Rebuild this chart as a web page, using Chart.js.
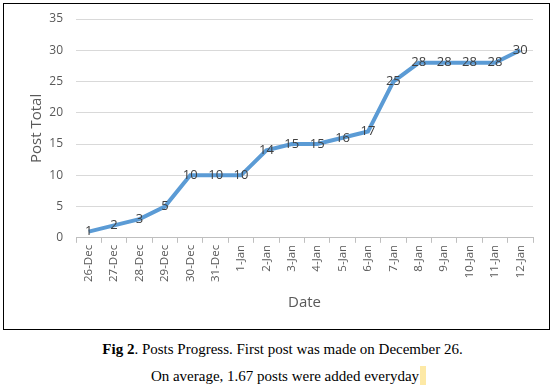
<!DOCTYPE html>
<html><head><meta charset="utf-8">
<script src="https://cdn.jsdelivr.net/npm/chart.js@4"></script>
<style>
html,body{margin:0;padding:0;background:#fff;width:553px;height:387px;overflow:hidden}
#box{position:absolute;left:3px;top:3px;width:545px;height:325px;border:1px solid #000}
#wrap{position:absolute;left:0;top:0;width:545px;height:325px}
.cap{position:absolute;left:0;width:553px;text-align:center;font-family:"Liberation Serif","Times New Roman",serif;font-size:15px;color:#000}
.hl{display:inline-block;width:6px;height:19px;background:#fde9a6;vertical-align:-4px;margin-left:1px}
</style></head><body>
<div id="box"><div id="wrap"><canvas id="c"></canvas></div></div>
<div class="cap" style="top:341px;padding-left:12px;box-sizing:border-box"><b>Fig 2</b>. Posts Progress. First post was made on December 26.</div>
<div class="cap" style="top:366px;padding-left:24px;box-sizing:border-box">On average, 1.67 posts were added everyday<span class="hl"></span></div>
<script>
const categories = ["26-Dec","27-Dec","28-Dec","29-Dec","30-Dec","31-Dec","1-Jan","2-Jan","3-Jan","4-Jan","5-Jan","6-Jan","7-Jan","8-Jan","9-Jan","10-Jan","11-Jan","12-Jan"];
const postTotals = [1,2,3,5,10,10,10,14,15,15,16,17,25,28,28,28,28,30];
const yTicks = [0,5,10,15,20,25,30,35];

const labelPlugin = {
  id:'pointLabels',
  afterDatasetsDraw(chart){
    const ctx = chart.ctx;
    const meta = chart.getDatasetMeta(0);
    ctx.save();
    ctx.font = '13px "Open Sans", "Liberation Sans", sans-serif';
    ctx.fillStyle = '#404040';
    ctx.textAlign = 'center';
    ctx.textBaseline = 'middle';
    meta.data.forEach((pt,i)=>{
      ctx.fillText(String(postTotals[i]), pt.x, pt.y);
    });
    ctx.restore();
  }
};

new Chart(document.getElementById('c'),{
  type:'line',
  data:{labels:categories,datasets:[{data:postTotals,borderColor:'#5b9bd5',borderWidth:4,pointRadius:0,tension:0,fill:false}]},
  options:{
    responsive:true,maintainAspectRatio:false,animation:false,
    layout:{padding:{left:24,right:16,top:15,bottom:17}},
    plugins:{legend:{display:false},tooltip:{enabled:false}},
    scales:{
      x:{
        offset:true,
        grid:{display:true,offset:true,drawOnChartArea:false,drawTicks:true,tickLength:5,color:'#bfbfbf'},
        border:{color:'#bfbfbf'},
        ticks:{maxRotation:90,minRotation:90,autoSkip:false,color:'#595959',font:{family:'"Open Sans","Liberation Sans",sans-serif',size:11.5},padding:2},
        title:{display:true,text:'Date',color:'#595959',font:{family:'"Open Sans","Liberation Sans",sans-serif',size:15},padding:{top:10,bottom:0}}
      },
      y:{
        min:0,max:35,
        afterBuildTicks(axis){axis.ticks = yTicks.map(v=>({value:v}));},
        afterFit(axis){axis.width = 48; axis.paddingTop = 0; axis.paddingBottom = 0;},
        grid:{color:'#d9d9d9',drawTicks:false},
        border:{display:false},
        ticks:{color:'#595959',font:{family:'"Open Sans","Liberation Sans",sans-serif',size:12},padding:13},
        title:{display:true,text:'Post Total',color:'#595959',font:{family:'"Open Sans","Liberation Sans",sans-serif',size:15},padding:{top:0,bottom:0}}
      }
    }
  },
  plugins:[labelPlugin]
});
</script>
</body></html>
